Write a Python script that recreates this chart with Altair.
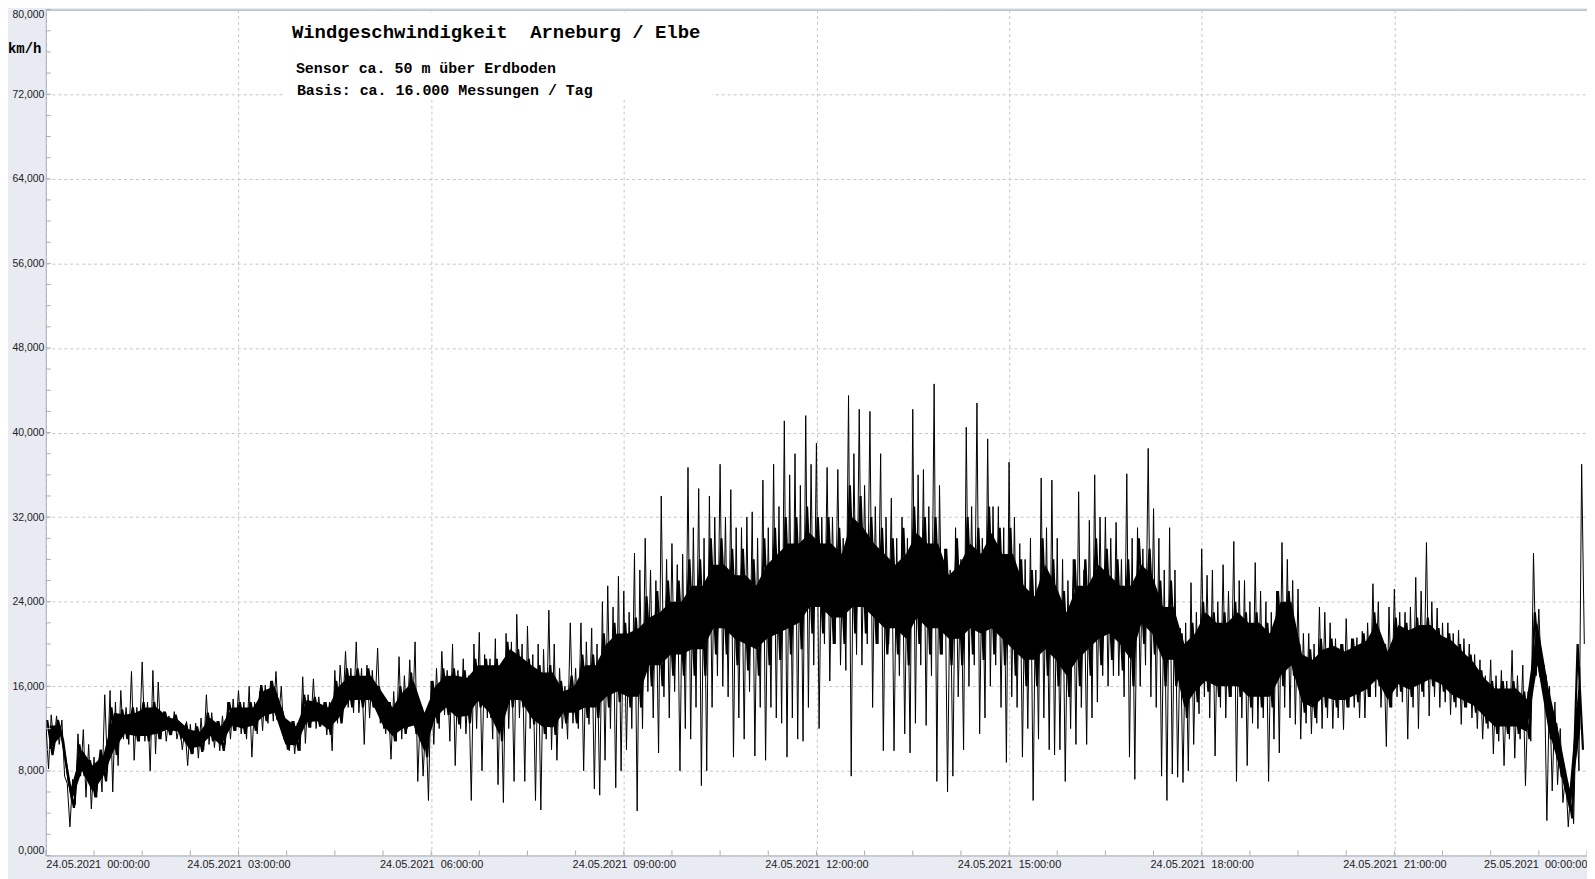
import altair as alt
import pandas as pd

# Wind speed km/h: 4 extreme readings per 10 minutes
speed_00_04h = [
    12.5, 8.2, 13.3, 10.5,  13.2, 10.5, 12.8, 7.5,  6.8, 2.7, 7.2, 4.8,  11.5, 7.5, 11.9, 5.5,
    10.5, 4.4, 9.3, 5.5,  9.2, 6, 15.2, 8.5,  15.6, 6, 14.5, 8.5,  15.6, 11, 14, 10.5,
    17.4, 9, 14, 10.8,  18.3, 10.8, 14.5, 8,  17.5, 9.6, 16.4, 11,  13.6, 10.8, 13.2, 11.4,
    13.6, 11, 12.4, 10,  12, 8.5, 12.4, 9.6,  12.5, 9.2, 13, 10,  15.2, 10.5, 13.5, 10.2,
    12.7, 9.9, 13.2, 10.5,  14.5, 11, 14.8, 11.8,  15.6, 11.5, 14.5, 11,  16, 9.3, 14.5, 11.5,
    15.5, 11.8, 16.1, 12.5,  16.5, 12.7, 17.4, 13,  16, 11, 12.5, 9.9,  12.7, 9.6, 12.5, 9.9,
]
speed_04_08h = [
    16.9, 10.6, 15.2, 12.1,  16.7, 12, 15, 12.5,  14.5, 11.4, 14.5, 9.9,  17.5, 12.5, 18, 14,
    19.3, 14, 17.7, 13.5,  20.2, 13.5, 17.7, 10.5,  18, 13, 17.5, 14,  19.6, 12.5, 15, 11.5,
    14.5, 9.1, 15.5, 10.8,  18.8, 11, 17, 12,  18.5, 12.5, 20.2, 7,  14, 7.5, 13, 5.2,
    16.5, 10.5, 17.7, 12,  19.3, 13.3, 17.5, 10.8,  20, 8.5, 17.5, 12,  18.6, 11.5, 17, 5.2,
    20, 12, 21.1, 8,  19, 13, 18.6, 11,  20.5, 6.7, 18, 5,  21, 12, 20.2, 7,
    22.8, 13, 20, 7,  21.7, 12, 19, 5.2,  20, 4.3, 19.5, 11,  23.2, 10, 20, 9,
]
speed_08_12h = [
    17.7, 12, 16, 11,  22, 12.5, 17.7, 12,  22, 8, 20.2, 12.4,  21.5, 6.3, 20, 5.7,
    24, 9, 25.5, 12,  23.5, 6.4, 26.4, 8,  25, 10, 23, 12,  28.6, 4.2, 27, 12,
    30, 15.5, 27, 13,  26, 9.7, 34, 15,  28, 13, 29.5, 15.5,  27.5, 8, 28.5, 12,
    36.7, 11, 31, 14,  34.7, 6.6, 30, 8,  34, 14, 32, 17,  37, 16, 32, 15,
    34.6, 9.3, 31, 13,  31, 11, 32, 15.5,  32.5, 9.4, 30, 14,  35.5, 9, 31, 14,
    37, 13, 33, 12.5,  41.1, 9.3, 36, 13,  38, 11, 35, 10.8,  41.6, 14, 37, 18,
]
speed_12_16h = [
    39, 12, 32, 20,  36.7, 16.5, 32, 20,  36.5, 18, 30, 17.5,  43.5, 7.5, 38, 19,
    42.2, 18, 35, 20,  42, 14, 33, 20,  38, 9.9, 32, 20,  33.8, 9.9, 30, 17,
    32, 11.5, 30, 9.7,  42.2, 12.5, 36, 18,  36.5, 12.3, 33, 17,  44.6, 7, 35, 19,
    29, 6, 27, 7.5,  31, 15, 28, 10,  40.5, 16, 33, 18,  42.8, 11.5, 30, 13,
    39.4, 16, 33, 18,  33, 14, 31, 8.8,  37.2, 15, 32, 14,  29.5, 9.3, 28, 12,
    30, 5.2, 27, 11,  35.7, 13, 31, 10,  35.5, 9.5, 30, 10,  28, 7, 26, 12,
]
speed_16_20h = [
    28, 10.5, 34.4, 14,  27, 10.5, 31.7, 13,  36, 14.5, 32, 17,  32, 16, 30, 17,
    31.5, 17, 28, 15,  36.1, 9.3, 30, 7.2,  31, 16, 29, 18,  38.5, 15, 32.8, 14,
    30, 7.5, 27, 5.2,  31, 7.7, 27, 7.4,  21.5, 6.9, 22, 8,  25.8, 10.5, 23, 13.4,
    29, 15, 26.5, 13,  27, 9.4, 24, 14,  27.5, 13, 25, 15,  29.7, 7, 26, 13,
    26, 8.5, 24, 12.5,  27.7, 12, 25, 13,  24, 7, 23, 11,  25, 9.7, 29.6, 14,
    28, 13, 26, 12.4,  25.2, 11, 21, 12.5,  21, 11.5, 20, 12.5,  23.5, 12, 23, 13,
]
speed_20_24h = [
    22, 12, 20.5, 13,  20, 11.9, 22.4, 14,  20.5, 14, 20.6, 13,  21.2, 13, 22, 15,
    25.7, 15, 24, 14,  20, 10.3, 23.5, 14,  25.2, 15, 23, 14.5,  23, 11, 23.5, 14,
    26.3, 12, 25, 15,  29.6, 13.2, 24, 15,  23.4, 14, 22, 14.5,  22, 13.3, 21, 14,
    21.3, 12.4, 20.5, 14,  20, 13, 19, 12,  18.5, 11, 17, 12,  18.5, 9.6, 17, 10.8,
    17.5, 8.5, 16.5, 11,  19.4, 9.2, 17, 11,  18, 6.6, 15.5, 10.8,  28.6, 17, 23.3, 16.5,
    18, 3.3, 16, 6.1,  14.5, 6.7, 12, 5,  7.7, 2.7, 6.5, 3,  14, 8, 37, 20,
]

# Dense core band (where the trace is mostly black), upper / lower edge per 10 minutes
core_hi = [
    12.8, 12.8, 7.0, 10.5, 9.0, 10.0, 14.0, 13.8, 14.0, 14.5, 14.5, 13.6,
    13.3, 12.4, 12.2, 13.5, 12.7, 14.5, 14.5, 14.5, 16.1, 16.5, 13.5, 12.7,
    15.2, 15.0, 14.5, 16.5, 17.7, 17.7, 17.7, 16.0, 14.5, 16.0, 17.3, 14.0,
    16.5, 17.7, 17.7, 17.5, 18.6, 18.6, 18.6, 20.2, 19.5, 18.6, 18.0, 18.0,
    16.5, 17.0, 19.0, 19.0, 21.0, 22.0, 22.0, 22.5, 24.5, 25.0, 26.0, 26.0,
    28.0, 28.0, 30.0, 30.0, 29.0, 29.0, 28.0, 30.0, 31.0, 32.0, 32.0, 33.0,
    32.0, 32.0, 31.0, 35.0, 34.0, 32.0, 31.0, 30.0, 31.0, 33.0, 32.0, 32.0,
    29.0, 30.0, 32.0, 31.0, 33.0, 31.0, 31.0, 28.0, 27.0, 30.0, 28.0, 25.0,
    28.0, 28.0, 30.0, 29.0, 28.0, 28.0, 30.0, 29.0, 26.0, 26.0, 21.0, 22.0,
    24.0, 23.0, 23.0, 24.0, 23.0, 23.0, 22.0, 25.0, 25.0, 20.0, 19.5, 20.5,
    20.5, 20.0, 20.5, 21.0, 23.0, 20.0, 22.5, 22.0, 22.5, 22.5, 21.5, 21.0,
    20.0, 19.0, 17.5, 16.5, 16.5, 16.5, 15.5, 23.0, 17.0, 12.5, 7.0, 20.0,
]
core_lo = [
    9.5, 10.8, 4.5, 7.5, 5.5, 7.0, 9.5, 11.0, 10.8, 10.8, 11.0, 11.4,
    11.2, 9.6, 9.8, 10.8, 9.9, 11.8, 11.5, 11.8, 12.7, 13.0, 10.0, 9.9,
    12.1, 12.2, 11.4, 12.5, 14.0, 14.0, 14.0, 12.0, 10.8, 11.5, 11.5, 9.3,
    12.5, 13.3, 12.4, 12.5, 14.0, 13.0, 10.8, 14.0, 14.0, 12.4, 11.5, 11.4,
    12.5, 12.5, 13.0, 13.0, 14.0, 14.5, 14.0, 14.0, 16.0, 16.0, 17.0, 17.0,
    17.0, 17.0, 19.0, 19.0, 18.0, 17.5, 17.0, 18.0, 18.5, 19.0, 19.5, 21.0,
    21.0, 20.0, 20.0, 21.0, 21.0, 20.0, 19.0, 19.0, 18.0, 20.0, 19.0, 19.0,
    18.0, 18.0, 19.0, 18.5, 19.0, 18.0, 17.0, 16.0, 16.0, 17.0, 16.0, 15.0,
    16.0, 17.0, 18.0, 18.5, 17.5, 16.0, 20.0, 19.0, 16.0, 16.0, 13.0, 14.5,
    15.5, 15.0, 15.0, 15.0, 14.0, 14.0, 14.0, 16.0, 17.0, 13.5, 13.0, 14.0,
    14.0, 14.0, 14.5, 15.0, 16.0, 14.0, 15.5, 15.0, 15.5, 16.0, 15.5, 14.5,
    14.0, 13.5, 12.5, 11.5, 11.5, 11.5, 11.0, 17.0, 11.0, 7.5, 3.5, 10.0,
]

# Fully solid part of the trace, upper / lower edge per 10 minutes
solid_hi = [
    12.3, 12.3, 6.5, 10.0, 8.5, 9.5, 13.5, 13.3, 13.5, 14.0, 14.0, 13.1,
    12.8, 11.9, 11.7, 13.0, 12.2, 14.0, 14.0, 14.0, 15.6, 16.0, 13.0, 12.2,
    14.7, 14.5, 14.0, 16.0, 17.0, 17.0, 17.0, 15.5, 14.0, 15.5, 16.5, 13.5,
    16.0, 17.0, 17.0, 16.8, 18.0, 18.0, 18.0, 19.5, 18.8, 18.0, 17.3, 17.3,
    15.5, 16.0, 18.0, 18.0, 20.0, 21.0, 21.0, 21.5, 22.5, 23.0, 24.0, 24.0,
    25.5, 25.5, 27.5, 27.5, 26.5, 26.5, 25.5, 27.5, 28.5, 29.5, 29.5, 30.5,
    29.5, 29.5, 28.5, 32.0, 31.0, 29.5, 28.5, 27.5, 28.5, 30.5, 29.5, 29.5,
    26.5, 27.5, 29.5, 28.5, 30.5, 28.5, 28.5, 25.5, 24.5, 27.5, 25.5, 23.0,
    25.5, 25.5, 27.5, 26.5, 25.5, 25.5, 27.5, 26.5, 23.5, 23.5, 20.0, 21.0,
    23.0, 22.0, 22.0, 23.0, 22.0, 22.0, 21.0, 24.0, 24.0, 19.0, 18.5, 19.5,
    19.8, 19.3, 19.8, 20.3, 22.0, 19.3, 21.8, 21.3, 21.8, 21.8, 20.8, 20.3,
    19.3, 18.3, 16.8, 15.8, 15.8, 15.8, 14.8, 22.0, 16.0, 11.5, 6.3, 18.0,
]
solid_lo = [
    10.0, 11.3, 5.0, 8.0, 6.0, 7.5, 10.0, 11.5, 11.3, 11.3, 11.5, 11.9,
    11.7, 10.1, 10.3, 11.3, 10.4, 12.3, 12.0, 12.3, 13.2, 13.5, 10.5, 10.4,
    12.6, 12.7, 11.9, 13.0, 14.7, 14.7, 14.7, 12.5, 11.3, 12.0, 12.3, 9.8,
    13.0, 14.0, 13.1, 13.2, 14.6, 13.6, 11.4, 14.7, 14.7, 13.0, 12.2, 12.1,
    13.5, 13.5, 14.0, 14.0, 15.0, 15.5, 15.0, 15.0, 18.0, 18.0, 19.0, 19.0,
    19.5, 19.5, 21.5, 21.5, 20.5, 20.0, 19.5, 20.5, 21.0, 21.5, 22.0, 23.5,
    23.5, 22.5, 22.5, 23.5, 23.5, 22.5, 21.5, 21.5, 20.5, 22.5, 21.5, 21.5,
    20.5, 20.5, 21.5, 21.0, 21.5, 20.5, 19.5, 18.5, 18.5, 19.5, 18.5, 17.0,
    18.5, 19.5, 20.5, 21.0, 20.0, 18.5, 22.0, 21.0, 18.5, 18.5, 14.0, 15.5,
    16.5, 16.0, 16.0, 16.0, 15.0, 15.0, 15.0, 17.0, 18.0, 14.5, 14.0, 15.0,
    14.7, 14.7, 15.2, 15.7, 16.7, 14.7, 16.2, 15.7, 16.2, 16.7, 16.2, 15.2,
    14.7, 14.2, 13.2, 12.2, 12.2, 12.2, 11.7, 18.0, 12.0, 8.5, 4.2, 12.0,
]

title_text = "Windgeschwindigkeit \u00a0Arneburg / Elbe"
sub1_text = "Sensor ca. 50 m über Erdboden"
sub2_text = "Basis: ca. 16.000 Messungen / Tag"
unit_text = "km/h"

segments = [speed_00_04h, speed_04_08h, speed_08_12h, speed_12_16h, speed_16_20h, speed_20_24h]
values = [v for seg in segments for v in seg]
start = pd.Timestamp("2021-05-24 00:00:00")


def ts(seconds):
    return (start + pd.Timedelta(seconds=seconds)).strftime("%Y-%m-%dT%H:%M:%S")


df = pd.DataFrame({"t": [ts(150 * i) for i in range(len(values))], "v": values})

# core trace: upper edge then lower edge inside each 10-minute step
core_t, core_v = [], []
for i, (hi, lo) in enumerate(zip(core_hi, core_lo)):
    core_t += [ts(600 * i + 75), ts(600 * i + 375)]
    core_v += [hi, lo]
core_df = pd.DataFrame({"t": core_t, "v": core_v})
solid_df = pd.DataFrame({"t": [ts(600 * i + 225) for i in range(len(solid_hi))],
                         "lo": solid_lo, "hi": solid_hi})

minor_x_df = pd.DataFrame({"t": [ts(60 * m) for m in range(0, 1441, 45)]})
minor_y_df = pd.DataFrame({"v": list(range(0, 81, 2))})
major_x = [alt.DateTime(year=2021, month=5, date=24 + (h // 24), hours=h % 24) for h in range(0, 25, 3)]

W, H = 1547, 849
LABEL_FONT = "Liberation Sans"
MONO = "Courier New, Liberation Mono, monospace"

x_scale = alt.Scale(domain=[alt.DateTime(year=2021, month=5, date=24, hours=0),
                            alt.DateTime(year=2021, month=5, date=25, hours=0)])
y_scale = alt.Scale(domain=[0, 80], nice=False, zero=True)

line = alt.Chart(df).mark_line(color="black", strokeWidth=1, clip=True).encode(
    x=alt.X("t:T", scale=x_scale,
            axis=alt.Axis(values=major_x, format="%d.%m.%Y \u00a0%H:%M:%S", title=None,
                          labelFlush=True, grid=True, gridDash=[3, 3], gridColor="#c6c6c6",
                          ticks=False, domain=False, labelFont=LABEL_FONT, labelFontSize=11,
                          labelColor="#222222", labelPadding=3)),
    y=alt.Y("v:Q", scale=y_scale,
            axis=alt.Axis(values=list(range(0, 81, 8)),
                          labelExpr="replace(format(datum.value, '.3f'), '.', ',')",
                          title=None, labelFlush=True, grid=True, gridDash=[3, 3],
                          gridColor="#c6c6c6", ticks=False, domain=False,
                          labelFont=LABEL_FONT, labelFontSize=10.5, labelColor="#222222",
                          labelPadding=2)),
)

solid = alt.Chart(solid_df).mark_area(color="black", opacity=1, clip=True).encode(
    x=alt.X("t:T", scale=x_scale), y=alt.Y("lo:Q", scale=y_scale), y2="hi:Q")
core = alt.Chart(core_df).mark_line(color="black", strokeWidth=2.2, clip=True).encode(
    x=alt.X("t:T", scale=x_scale), y=alt.Y("v:Q", scale=y_scale))

minor_x_ticks = alt.Chart(minor_x_df).mark_rule(color="#a8aebb").encode(
    x=alt.X("t:T", scale=x_scale), y=alt.value(H - 5), y2=alt.value(H))
minor_y_ticks = alt.Chart(minor_y_df).mark_rule(color="#a8aebb").encode(
    y=alt.Y("v:Q", scale=y_scale), x=alt.value(0), x2=alt.value(5))

dummy = pd.DataFrame({"a": [0]})
box = alt.Chart(dummy).mark_rect(color="white").encode(
    x=alt.value(239), x2=alt.value(669), y=alt.value(2), y2=alt.value(89))
title = alt.Chart(dummy).mark_text(font=MONO, fontSize=19, fontWeight="bold", align="left",
                                   baseline="middle", color="black").encode(
    x=alt.value(247), y=alt.value(22), text=alt.value(title_text))
sub1 = alt.Chart(dummy).mark_text(font=MONO, fontSize=15, fontWeight="bold", align="left",
                                  baseline="middle", color="black").encode(
    x=alt.value(251), y=alt.value(59), text=alt.value(sub1_text))
sub2 = alt.Chart(dummy).mark_text(font=MONO, fontSize=15, fontWeight="bold", align="left",
                                  baseline="middle", color="black").encode(
    x=alt.value(252), y=alt.value(81), text=alt.value(sub2_text))
unit = alt.Chart(dummy).mark_text(font=MONO, fontSize=14, fontWeight="bold", align="left",
                                  baseline="middle", color="black").encode(
    x=alt.value(-38), y=alt.value(40), text=alt.value(unit_text))

chart = alt.layer(line, solid, core, minor_x_ticks, minor_y_ticks, box, title, sub1, sub2, unit).properties(
    width=W, height=H,
    autosize=alt.AutoSizeParams(type="none"),
    padding={"left": 38, "top": 0, "right": 0, "bottom": 22},
    background="#e8ebf1",
).configure_view(stroke="#9ea6b6", strokeWidth=1, fill="white")

chart.save("out.html", embed_options={"renderer": "svg", "actions": False})
